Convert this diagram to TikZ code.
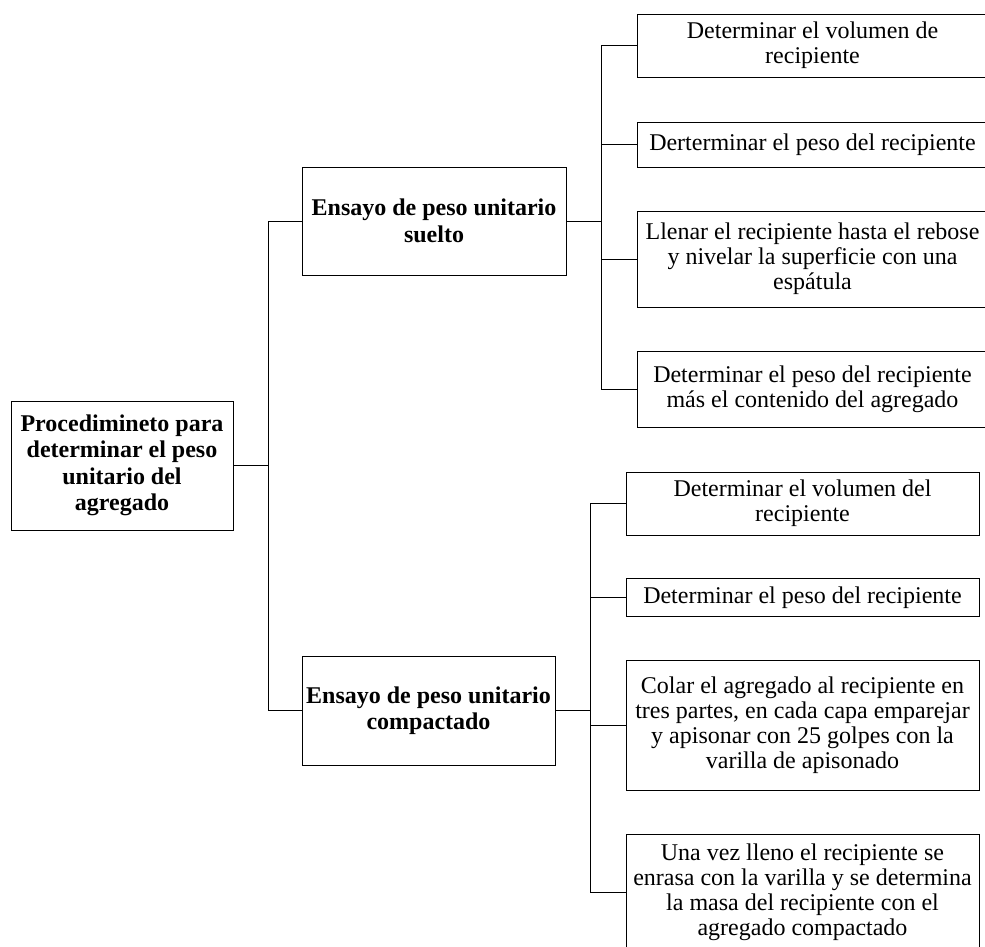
\documentclass[tikz,border=0pt]{standalone}
\usepackage{fontspec}
\setmainfont{Liberation Serif}

\begin{document}
\begin{tikzpicture}[x=1pt,y=-1pt,
    caja/.style={draw, line width=0.9pt, inner sep=0pt, align=center,
        font=\fontsize{24}{25}\selectfont},
    cajab/.style={caja, font=\fontsize{24}{26.5}\selectfont\bfseries},
    linea/.style={line width=0.9pt}]
    \useasboundingbox (0,0) rectangle (985,946);
    \clip (0,0) rectangle (985,946);

    \node [cajab, minimum width=222, minimum height=129] (proc) at (122,465.5)
        {Procedimineto para\\determinar el peso\\unitario del\\agregado};

    \node [cajab, minimum width=264, minimum height=108] (suelto) at (434,221)
        {Ensayo de peso unitario\\suelto};
    \node [cajab, minimum width=253, minimum height=109] (compac) at (428.5,710.5)
        {Ensayo de peso unitario\\compactado};

    % suelto
    \node [caja, minimum width=351, minimum height=63] (s1) at (812.5,45.5)
        {Determinar el volumen de\\recipiente};
    \node [caja, minimum width=351, minimum height=45] (s2) at (812.5,144.5)
        {Derterminar el peso del recipiente};
    \node [caja, minimum width=351, minimum height=96] (s3) at (812.5,259)
        {Llenar el recipiente hasta el rebose\\y nivelar la superficie con una\\esp\'atula};
    \node [caja, minimum width=351, minimum height=76] (s4) at (812.5,389)
        {Determinar el peso del recipiente\\m\'as el contenido del agregado};

    % compactado
    \node [caja, minimum width=353, minimum height=63] (c1) at (802.5,503.5)
        {Determinar el volumen del\\recipiente};
    \node [caja, minimum width=353, minimum height=38] (c2) at (802.5,597.5)
        {Determinar el peso del recipiente};
    \node [caja, minimum width=353, minimum height=130] (c3) at (802.5,725)
        {Colar el agregado al recipiente en\\tres partes, en cada capa emparejar\\y apisonar con 25 golpes con la\\varilla de apisonado};
    \node [caja, minimum width=353, minimum height=116] (c4) at (802.5,892)
        {Una vez lleno el recipiente se\\enrasa con la varilla y se determina\\la masa del recipiente con el\\agregado compactado};

    \coordinate (r0) at ([xshift=35pt]proc.east);
    \coordinate (r1) at ([xshift=35pt]suelto.east);
    \coordinate (r2) at ([xshift=35pt]compac.east);

    \draw [linea] (proc.east) -- (r0);
    \draw [linea] (r0 |- suelto.west) -- (r0 |- compac.west);
    \draw [linea] (r0 |- suelto.west) -- (suelto.west);
    \draw [linea] (r0 |- compac.west) -- (compac.west);

    \draw [linea] (suelto.east) -- (r1);
    \draw [linea] (r1 |- s1.west) -- (r1 |- s4.west);
    \foreach \n in {s1,s2,s3,s4}
        \draw [linea] (r1 |- \n.west) -- (\n.west);

    \draw [line width=1.6pt] (compac.east) -- (r2);
    \draw [linea] (r2 |- c1.west) -- (r2 |- c4.west);
    \foreach \n in {c1,c2,c3,c4}
        \draw [linea] (r2 |- \n.west) -- (\n.west);
\end{tikzpicture}
\end{document}
